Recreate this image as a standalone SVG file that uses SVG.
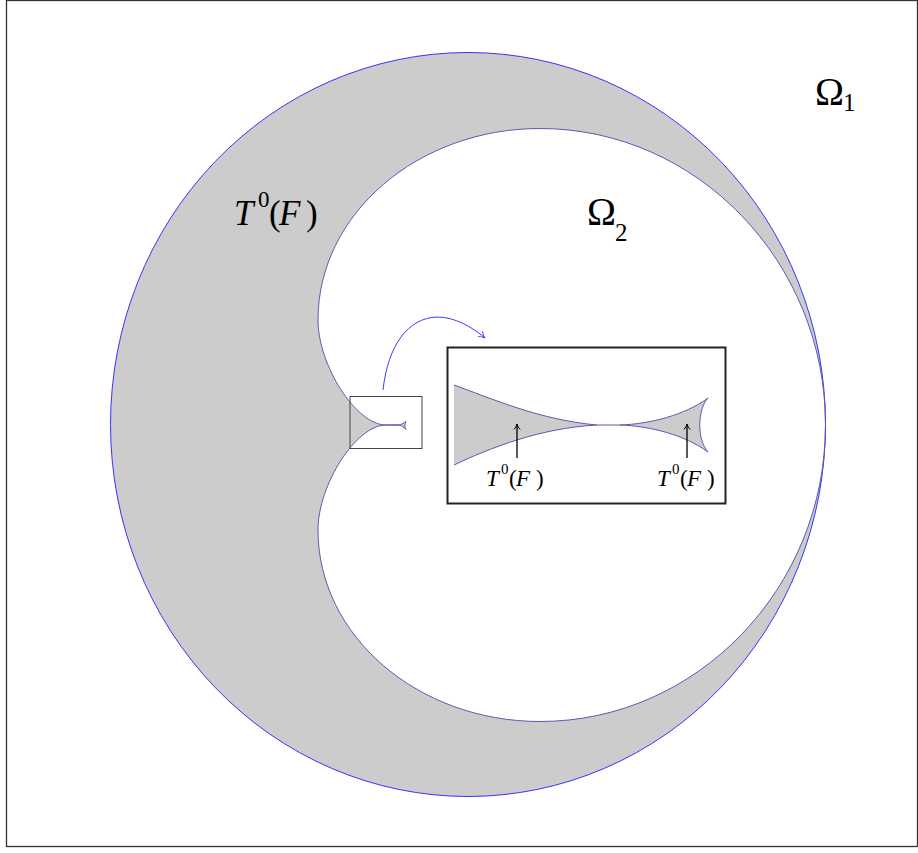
<svg xmlns="http://www.w3.org/2000/svg" width="918" height="853" viewBox="0 0 918 853">
<style>
.lbl{font-family:"Liberation Serif","DejaVu Serif",serif;fill:#000}
.it{font-style:italic}
.edge{fill:none;stroke:#5a5ab4;stroke-width:1}
.gray{fill:#cccccc}
</style>
<defs>
<marker id="ah" viewBox="0 0 10 10" refX="9" refY="5" markerWidth="8" markerHeight="8" markerUnits="userSpaceOnUse" orient="auto">
<path d="M2,1 Q5,4 9,5 Q5,6 2,9" fill="none" stroke="#000" stroke-width="1.2"/>
</marker>
<marker id="ahb" viewBox="0 0 10 10" refX="9" refY="5" markerWidth="9" markerHeight="9" markerUnits="userSpaceOnUse" orient="auto">
<path d="M2,1 Q5,4 9,5 Q5,6 2,9" fill="none" stroke="#3a3aff" stroke-width="1.1"/>
</marker>
</defs>
<rect x="0" y="0" width="918" height="853" fill="#fff"/>
<rect id="frame" x="6.5" y="0.5" width="911" height="846" fill="none" stroke="#333" stroke-width="1.3"/>

<g id="region-T0F">
<path class="gray" fill-rule="evenodd" d="M110.5,424.5 A357.5,372 0 1 0 825.5,424.5 A357.5,372 0 1 0 110.5,424.5 Z M386,425 C356,425 318,365 318,320 C318,214 418,128.5 540,128.5 C697,128.5 825.5,262 825.5,425 C825.5,588 697,721.5 540,721.5 C418,721.5 318,636 318,530 C318,485 356,425 386,425 Z"/>
<ellipse cx="468" cy="424.5" rx="357.5" ry="372" fill="none" stroke="#2020ff" stroke-width="0.9"/>
<path class="edge" d="M386,425 C356,425 318,365 318,320 C318,214 418,128.5 540,128.5 C697,128.5 825.5,262 825.5,425 C825.5,588 697,721.5 540,721.5 C418,721.5 318,636 318,530 C318,485 356,425 386,425"/>
<path class="gray" stroke="#4a4aa0" stroke-width="0.9" d="M386,425 L399,425 C401,424.5 404,423 406,421.5 C404.5,423.5 404.5,427.5 406,429.5 C404,427 401,425.5 399,425 Z"/>
</g>

<g id="zoom-box">
<rect x="350" y="396.5" width="72" height="52" fill="none" stroke="#444" stroke-width="1"/>
</g>

<g id="inset">
<rect x="447.5" y="347.5" width="278" height="156" fill="#fff" stroke="#222" stroke-width="2"/>
<path class="gray" d="M454,385 C490,398 540,420 597,425 C540,428 490,448 454,465 Z"/>
<path class="edge" d="M454,385 C490,398 540,420 597,425 L620,425 M597,425 C540,428 490,448 454,465"/>
<path class="gray" d="M620,425 C650,424 685,415 708,398 C697,410 697,440 708,452 C685,435 650,426 620,425 Z"/>
<path class="edge" d="M620,425 C650,424 685,415 708,398 C697,410 697,440 708,452 C685,435 650,426 620,425 Z"/>
</g>

<g id="connectors">
<path d="M383,390 C388,345 408,318 437,317 C455,317 472,327 485,338" fill="none" stroke="#3a3aff" stroke-width="1" marker-end="url(#ahb)"/>
<line x1="517" y1="458" x2="517" y2="424" stroke="#000" stroke-width="1.3" marker-end="url(#ah)"/>
<line x1="687" y1="458" x2="687" y2="424" stroke="#000" stroke-width="1.3" marker-end="url(#ah)"/>
</g>

<g id="label-main">
<text class="lbl" font-size="35"><tspan class="it" x="234" y="225">T</tspan><tspan x="258" y="207" font-size="23">0</tspan><tspan x="269" y="225">(</tspan><tspan class="it" x="279" y="225">F</tspan><tspan x="306" y="225">)</tspan></text>
</g>
<g id="label-omega2">
<text class="lbl" font-size="39"><tspan x="587" y="225">Ω</tspan><tspan x="615" y="241" font-size="25">2</tspan></text>
</g>
<g id="label-omega1">
<text class="lbl" font-size="39"><tspan x="815" y="105">Ω</tspan><tspan x="843" y="111" font-size="25">1</tspan></text>
</g>
<g id="label-inset-left">
<text class="lbl" font-size="23"><tspan class="it" x="486" y="486">T</tspan><tspan x="501" y="474" font-size="15">0</tspan><tspan x="509" y="486">(</tspan><tspan class="it" x="516" y="486">F</tspan><tspan x="536" y="486">)</tspan></text>
</g>
<g id="label-inset-right">
<text class="lbl" font-size="23"><tspan class="it" x="657" y="486">T</tspan><tspan x="672" y="474" font-size="15">0</tspan><tspan x="680" y="486">(</tspan><tspan class="it" x="687" y="486">F</tspan><tspan x="707" y="486">)</tspan></text>
</g>
</svg>
